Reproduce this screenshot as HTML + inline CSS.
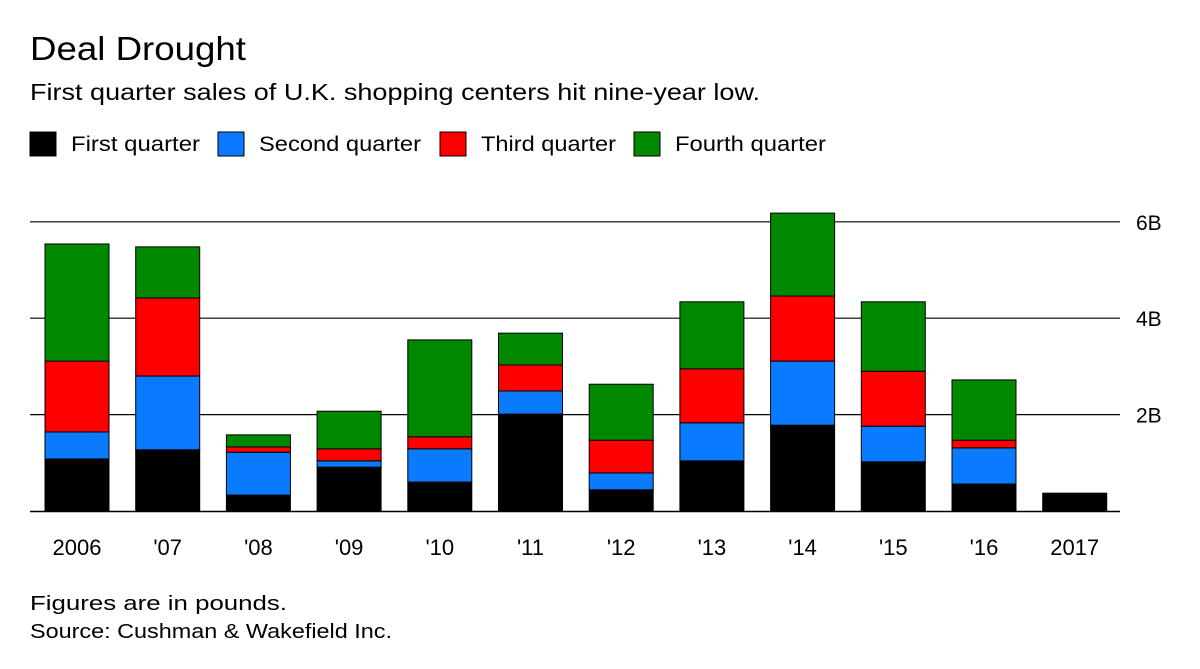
<!DOCTYPE html>
<html><head><meta charset="utf-8"><style>
body{margin:0;background:#fff;font-family:"Liberation Sans",sans-serif;}
svg text{font-family:"Liberation Sans",sans-serif;}
</style></head><body>
<svg width="1200" height="664">
<text x="30" y="60" font-size="33" fill="#000" textLength="216" lengthAdjust="spacingAndGlyphs">Deal Drought</text>
<text x="30" y="100" font-size="23" fill="#000" textLength="730" lengthAdjust="spacingAndGlyphs">First quarter sales of U.K. shopping centers hit nine-year low.</text>
<g id="legend"></g>
<g id="grid"></g>
<g id="bars"></g>
<g id="xaxis"></g>
<text x="30" y="610" font-size="20" textLength="257" lengthAdjust="spacingAndGlyphs">Figures are in pounds.</text>
<text x="30" y="638" font-size="20" textLength="362" lengthAdjust="spacingAndGlyphs">Source: Cushman &amp; Wakefield Inc.</text>
</svg>
<script>
const categories=["2006","'07","'08","'09","'10","'11","'12","'13","'14","'15","'16","2017"];
const q1=[1.08,1.27,0.33,0.91,0.60,2.01,0.44,1.04,1.78,1.02,0.56,0.37];
const q2=[0.56,1.53,0.89,0.13,0.69,0.48,0.35,0.79,1.33,0.74,0.75,0];
const q3=[1.47,1.62,0.11,0.25,0.25,0.54,0.68,1.12,1.35,1.14,0.16,0];
const q4=[2.43,1.06,0.25,0.78,2.01,0.66,1.16,1.39,1.72,1.44,1.25,0];
const seriesNames=["First quarter","Second quarter","Third quarter","Fourth quarter"];
const colors=["#000000","#0a7bff","#ff0000","#008800"];
const yTicks=[2,4,6];
const yTickLabels=["2B","4B","6B"];
const NS="http://www.w3.org/2000/svg";
function mk(t,a,p){const e=document.createElementNS(NS,t);for(const k in a)e.setAttribute(k,a[k]);p.appendChild(e);return e;}
const y0=511,pxPer=48.2;
const y=v=>y0-v*pxPer;
const x=i=>77+i*90.7;
const bw=64;
const lg=document.getElementById('legend');
const lx=[30,218,440,634];
const lw=[129,162,135,151];
seriesNames.forEach((n,i)=>{
 const r=mk('rect',{x:lx[i],y:132,width:26,height:24,fill:colors[i],stroke:'#000','stroke-width':1},lg);
 
 
 const t=mk('text',{x:lx[i]+41,y:151,'font-size':21,textLength:lw[i],lengthAdjust:'spacingAndGlyphs'},lg);t.textContent=n;
 
 
});
const g=document.getElementById('grid');
yTicks.forEach((v,i)=>{
 const l=mk('line',{x1:30,x2:1120,y1:y(v),y2:y(v),stroke:'#000','stroke-width':1.2},g);
 
 
 const t=mk('text',{x:1136,y:y(v)+8,'font-size':21},g);t.textContent=yTickLabels[i];
 
 
});
const b=document.getElementById('bars');
const series=[q1,q2,q3,q4];
categories.forEach((c,i)=>{
 let cum=0;
 series.forEach((s,k)=>{
  const v=s[i];if(v<=0)return;
  const r=mk('rect',{x:x(i)-bw/2,y:y(cum+v),width:bw,height:v*pxPer,fill:colors[k],stroke:'#000','stroke-width':1},b);
  
  
  cum+=v;
 });
});
const xa=document.getElementById('xaxis');
const base=mk('line',{x1:30,x2:1120,y1:y0+0.5,y2:y0+0.5,stroke:'#000','stroke-width':1.5},xa);


categories.forEach((c,i)=>{
 const t=mk('text',{x:x(i),y:555,'font-size':22,'text-anchor':'middle'},xa);t.textContent=c;
 
 
});
</script>
</body></html>
